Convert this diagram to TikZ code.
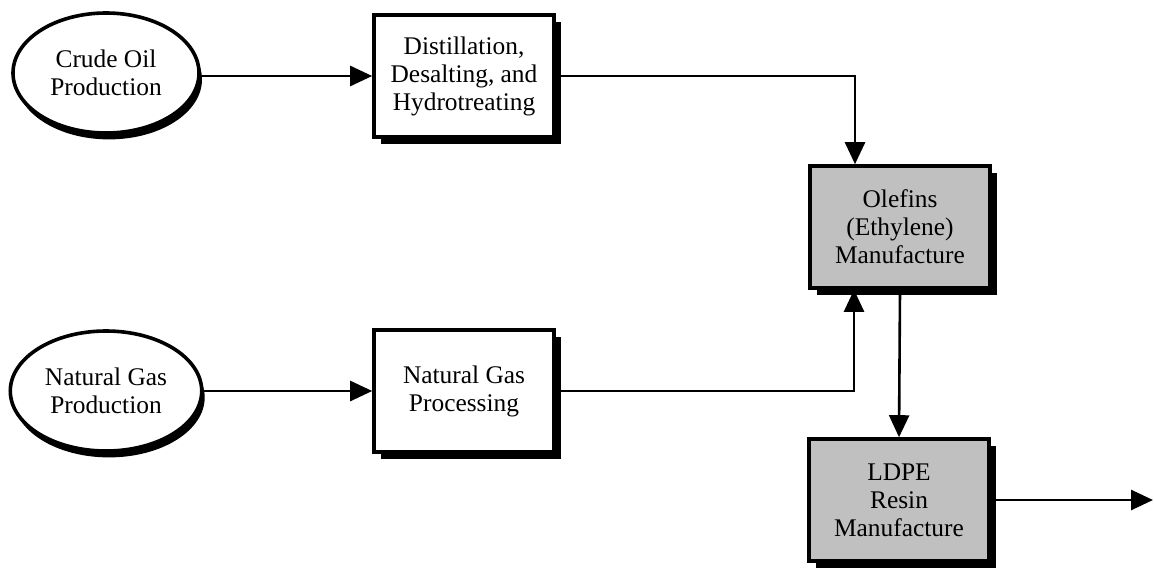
\documentclass[tikz,border=0pt]{standalone}
\usepackage{fontspec}
\setmainfont{Liberation Serif}
\usetikzlibrary{arrows.meta,shadows,shapes.geometric}

\begin{document}
\begin{tikzpicture}[>={Triangle[length=11pt,width=10pt]},x=0.5pt,y=-0.5pt,
    every node/.style={font=\fontsize{12.7}{14}\selectfont,align=center},
    source/.style={ellipse,draw,line width=1.8pt,fill=white,minimum width=93pt,minimum height=60pt,
        drop shadow={shadow xshift=1.5pt,shadow yshift=-3.2pt,fill=black,opacity=1}},
    plant/.style={rectangle,draw,line width=1.8pt,fill=white,minimum width=90pt,minimum height=61pt,
        drop shadow={shadow xshift=3.5pt,shadow yshift=-3.5pt,fill=black,opacity=1}},
    product/.style={plant,fill={rgb,255:red,192;green,192;blue,192}},
    flow/.style={->,line width=1.3pt}]
                \useasboundingbox (0,0) rectangle (1154,567);
                \node[source] (crude) at (106,73) {Crude Oil\\Production};
                \node[source] (ngprod) at (106,391) {Natural Gas\\Production};
                \node[plant] (distill) at (464,76) {Distillation,\\Desalting, and\\Hydrotreating};
                \node[plant] (ngproc) at (464,391) {Natural Gas\\Processing};
                \node[product] (olefins) at (900,227) {Olefins\\(Ethylene)\\Manufacture};
                \node[product] (ldpe) at (899,500) {LDPE\\Resin\\Manufacture};
                \coordinate (out) at (1153,500);
                \draw[flow] (crude.east |- distill.west) -- (distill.west);
                \draw[flow] (ngprod.east |- ngproc.west) -- (ngproc.west);
                \draw[flow] (distill.east) -| ([xshift=-22.5pt]olefins.north);
                \draw[flow] (ngproc.east) -| ([xshift=-23pt]olefins.south);
                \draw[flow] (olefins.south) -- (ldpe.north);
                \draw[flow] (ldpe.east) -- (out);
            \end{tikzpicture}
\end{document}
